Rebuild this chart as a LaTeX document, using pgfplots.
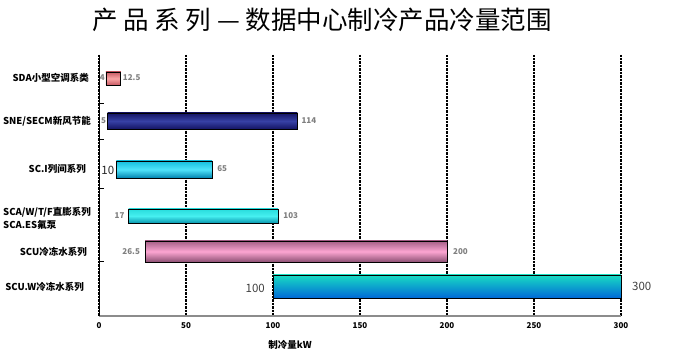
\documentclass[border=0pt]{standalone}
\usepackage{fontspec}
\setmainfont{Noto Sans CJK SC}
\usepackage{pgfplots}
\pgfplotsset{compat=1.18}
\definecolor{lblgray}{HTML}{7F7F7F}
\begin{document}
\begin{tikzpicture}[x=1pt,y=1pt]
\path[use as bounding box] (0,0) rectangle (677,355);
\begin{axis}[at={(99pt,39pt)}, anchor=south west, scale only axis,
  width=522pt, height=261pt,
  xmin=0, xmax=300, ymin=55, ymax=316, y dir=reverse,
  axis x line=bottom, axis y line=left, axis line style={-},
  x axis line style={black!45, line width=1.4pt},
  y axis line style={black, line width=0.8pt},
  xtick={0,50,...,300}, xmajorgrids,
  major grid style={black, densely dotted, line width=1.3pt},
  xtick style={draw=none},
  ytick={103,139,188,261}, yticklabels={},
  ytick style={black, line width=0.8pt}, tick align=inside, major tick length=5pt,
  /pgf/number format/assume math mode=true,
  xticklabel style={font=\bfseries\fontsize{8}{9}\selectfont, yshift=-3pt},
  clip=false]
% SDA
\addplot[draw=black, line width=0.7pt, top color={rgb,255:red,200;green,90;blue,100}, bottom color={rgb,255:red,200;green,90;blue,100}, middle color={rgb,255:red,250;green,165;blue,165}]
  coordinates {(4,72) (12.5,72) (12.5,85) (4,85)} --cycle;
% SNE
\addplot[draw=black, line width=0.7pt, top color={rgb,255:red,20;green,20;blue,100}, bottom color={rgb,255:red,20;green,20;blue,100}, middle color={rgb,255:red,55;green,65;blue,165}]
  coordinates {(5,113) (114,113) (114,129) (5,129)} --cycle;
% SC.I
\addplot[draw=black, line width=0.7pt, top color={rgb,255:red,20;green,190;blue,220}, bottom color={rgb,255:red,0;green,130;blue,175}, middle color={rgb,255:red,80;green,228;blue,250}]
  coordinates {(10,161) (65,161) (65,178) (10,178)} --cycle;
% SCA
\addplot[draw=black, line width=0.7pt, top color={rgb,255:red,40;green,220;blue,220}, bottom color={rgb,255:red,10;green,150;blue,175}, middle color={rgb,255:red,70;green,240;blue,240}]
  coordinates {(17,209) (103,209) (103,223) (17,223)} --cycle;
% SCU
\addplot[draw=black, line width=0.7pt, top color={rgb,255:red,165;green,95;blue,135}, bottom color={rgb,255:red,140;green,80;blue,115}, middle color={rgb,255:red,252;green,165;blue,210}]
  coordinates {(26.5,241) (200,241) (200,262) (26.5,262)} --cycle;
% SCU.W
\addplot[draw=black, line width=0.7pt, top color={rgb,255:red,25;green,220;blue,195}, bottom color={rgb,255:red,0;green,105;blue,215}]
  coordinates {(100,275) (300,275) (300,298) (100,298)} --cycle;

\begin{scope}[every node/.style={font=\bfseries\fontsize{8}{9}\selectfont, text=lblgray, inner sep=0pt}]
\node[anchor=east] at (axis cs:4,78) [xshift=-1pt] {4};
\node[anchor=west] at (axis cs:12.5,78) [xshift=2pt] {12.5};
\node[anchor=east] at (axis cs:5,121) [xshift=-1.5pt] {5};
\node[anchor=west] at (axis cs:114,121) [xshift=4pt] {114};
\node[anchor=west] at (axis cs:65,169) [xshift=5pt] {65};
\node[anchor=east] at (axis cs:17,216) [xshift=-4pt] {17};
\node[anchor=west] at (axis cs:103,216) [xshift=5pt] {103};
\node[anchor=east] at (axis cs:26.5,252) [xshift=-5pt] {26.5};
\node[anchor=west] at (axis cs:200,252) [xshift=6pt] {200};
\end{scope}
\node[anchor=east, font=\fontsize{11.5}{12}\selectfont, text=black!85, inner sep=0pt] at (axis cs:10,170) [xshift=-2pt] {10};
\node[anchor=east, font=\fontsize{11.5}{12}\selectfont, text=black!75, inner sep=0pt] at (axis cs:100,288) [xshift=-8pt] {100};
\node[anchor=west, font=\fontsize{11.5}{12}\selectfont, text=black!75, inner sep=0pt] at (axis cs:300,286) [xshift=11pt] {300};
\end{axis}
\node[font=\fontsize{25.5}{28}\selectfont] at (322,335) {产 品 系 列 — 数据中心制冷产品冷量范围};
\begin{scope}[every node/.style={font=\bfseries\fontsize{9.5}{11}\selectfont, inner sep=0pt}]
\node[anchor=east] at (89,277) {SDA小型空调系类};
\node[anchor=east] at (91,234) {SNE/SECM新风节能};
\node[anchor=east] at (86,186) {SC.I列间系列};
\node[anchor=west, align=left] at (3,137) {SCA/W/T/F直膨系列\\[2pt]SCA.ES氟泵};
\node[anchor=east] at (87,103) {SCU冷冻水系列};
\node[anchor=east] at (84,68) {SCU.W冷冻水系列};
\node[anchor=center] at (290,10) {制冷量kW};
\end{scope}
\end{tikzpicture}
\end{document}
